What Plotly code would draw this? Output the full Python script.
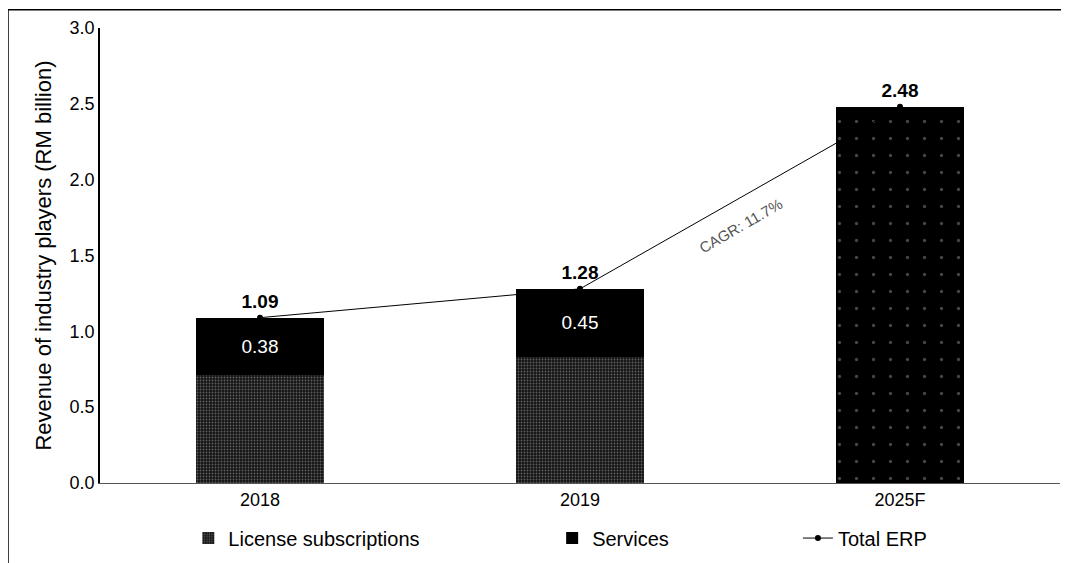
import plotly.graph_objects as go

categories = ["2018", "2019", "2025F"]
license_vals = [0.71, 0.83, None]
services_vals = [0.38, 0.45, None]
forecast_vals = [None, None, 2.48]
total_vals = [1.09, 1.28, 2.48]
service_labels = ["0.38", "0.45", ""]
total_labels = ["1.09", "1.28", "2.48"]
cagr_text = "CAGR: 11.7%"

FONT = "Liberation Sans, Arial, sans-serif"

fig = go.Figure()
fig.add_trace(go.Bar(
    x=categories, y=license_vals, name="License subscriptions",
    marker=dict(color="#1a1a1a", line=dict(width=0),
                pattern=dict(shape=".", bgcolor="#151515", fgcolor="#a8a8a8",
                             size=3, solidity=0.3)),
    legend="legend",
))
fig.add_trace(go.Bar(
    x=categories, y=services_vals, name="Services",
    marker=dict(color="#000000", line=dict(width=0)),
    text=service_labels, textposition="inside", insidetextanchor="middle",
    textfont=dict(color="white", size=19, family=FONT),
    legend="legend2",
))
fig.add_trace(go.Bar(
    x=categories, y=forecast_vals, name="Total ERP (forecast)", showlegend=False,
    marker=dict(color="#000000", line=dict(width=0),
                pattern=dict(shape=".", bgcolor="#000000", fgcolor="#8a8a8a",
                             size=17, solidity=0.03)),
))
fig.add_trace(go.Scatter(
    x=categories, y=total_vals, name="Total ERP", mode="lines+markers+text",
    line=dict(color="black", width=1), marker=dict(color="black", size=6),
    text=total_labels, textposition="top center",
    textfont=dict(color="black", size=19, family=FONT),
    texttemplate="<b>%{text}</b>",
    legend="legend3",
))

fig.add_annotation(x=1.503, y=1.70, xref="x", yref="y", text=cagr_text, showarrow=False,
                   textangle=-30, font=dict(size=15, color="#555555", family=FONT))

legend_common = dict(orientation="h", yanchor="middle", xanchor="left",
                     font=dict(size=20, family=FONT, color="black"),
                     bgcolor="rgba(0,0,0,0)", itemwidth=30, tracegroupgap=0)

fig.update_layout(
    width=1061, height=555,
    paper_bgcolor="white", plot_bgcolor="white",
    margin=dict(l=92, r=9, t=20, b=80, autoexpand=False),
    barmode="stack", bargap=0.6,
    font=dict(family=FONT, size=18, color="black"),
    xaxis=dict(showline=True, linecolor="#555555", linewidth=1, ticks="",
               tickfont=dict(size=18), showgrid=False),
    yaxis=dict(range=[0, 3.0], dtick=0.5, tickformat=".1f", showline=True,
               linecolor="black", linewidth=1.5, ticks="", showgrid=False,
               zeroline=False, tickfont=dict(size=18),
               title=dict(text="Revenue of industry players (RM billion)",
                          font=dict(size=22), standoff=12)),
    legend=dict(x=0.092, y=-0.121, **legend_common),
    legend2=dict(x=0.471, y=-0.121, **legend_common),
    legend3=dict(x=0.727, y=-0.121, **legend_common),
    showlegend=True,
)

# page frame: left and top rules
fig.add_shape(type="line", xref="paper", yref="paper", x0=-92/960, x1=-92/960, y0=-0.2, y1=1.04,
              line=dict(color="black", width=1.5))
fig.add_shape(type="line", xref="paper", yref="paper", x0=-92/960, x1=1.01, y0=1.04, y1=1.04,
              line=dict(color="black", width=1.5))

fig.write_html("out.html")
